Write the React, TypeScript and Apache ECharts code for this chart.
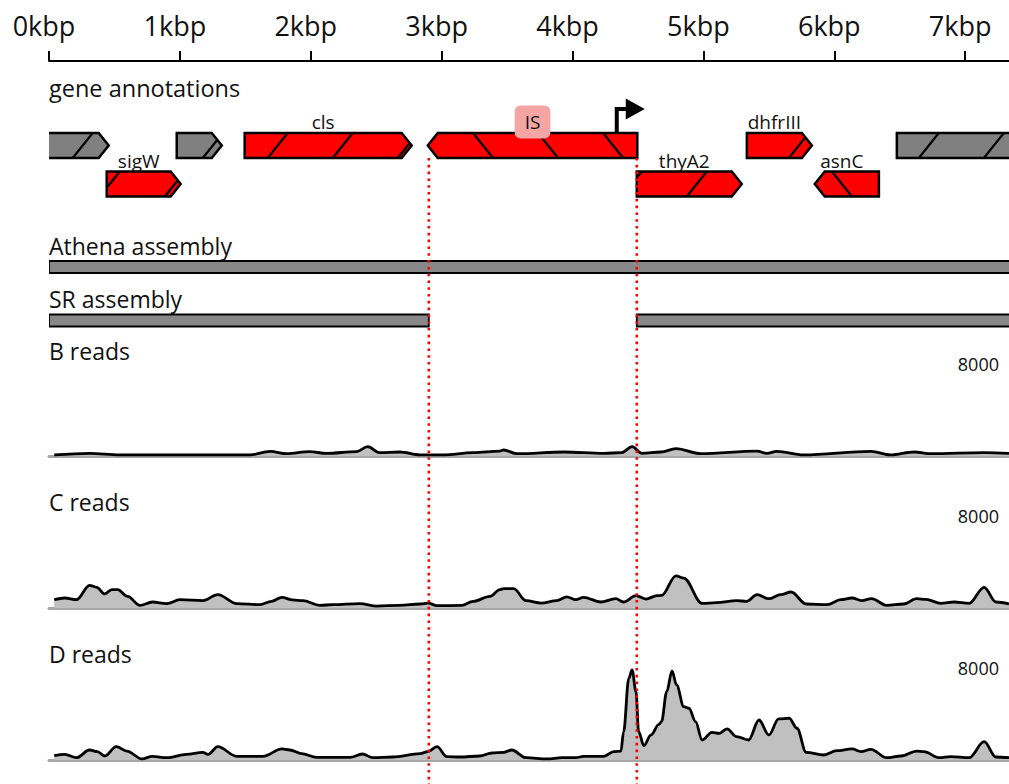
import React, { useEffect, useRef } from 'react';
import * as echarts from 'echarts';

const FONT = '"Open Sans", "Noto Sans", sans-serif';
const X_MAX = 7335;

// top ruler
const tickLabels = ['0kbp', '1kbp', '2kbp', '3kbp', '4kbp', '5kbp', '6kbp', '7kbp'];

// gene annotations (bp)
const geneNames = ['', 'sigW', '', 'cls', 'IS', 'thyA2', 'dhfrIII', 'asnC', ''];
const geneStart = [-300, 441, 976, 1495, 2894, 4491, 5332, 5851, 6478];
const geneEnd = [456, 1006, 1320, 2771, 4495, 5293, 5829, 6341, 7900];
const geneStrand = [1, 1, 1, 1, -1, 1, 1, -1, 1];
const geneRow = [0, 1, 0, 0, 0, 1, 0, 1, 0];
const geneKind = ['other', 'ref', 'other', 'ref', 'IS', 'ref', 'ref', 'ref', 'other'];
const geneHatch = [181, 388, 1175, 1671, 3240, 4376, 5653, 5982, 6646];
const HATCH_PERIOD = 497;

// promoter arrow
const promoterPos = [4338];
const promoterRow = [0];

// assemblies: [start, end, row]
const assemblyNames = ['Athena assembly', 'SR assembly'];
const athenaSegments = [[0, 7400, 0]];
const srSegments = [[0, 2902, 1], [4491, 7400, 1]];

// breakpoints
const breakpoints = [2902, 4491];

// coverage tracks [bp, depth]
const COV_MAX = 8000;
const bReads = [[40, 90], [310, 230], [540, 90], [1535, 90], [1690, 400], [1815, 200], [1990, 380], [2120, 230], [2350, 380], [2435, 810], [2525, 290], [2680, 350], [2835, 90], [3010, 90], [3240, 290], [3445, 430], [3475, 520], [3575, 200], [3935, 350], [4240, 230], [4375, 290], [4455, 810], [4530, 230], [4675, 350], [4790, 640], [4980, 200], [5410, 430], [5485, 230], [5560, 400], [5765, 90], [6280, 400], [6430, 90], [6610, 350], [6740, 200], [7145, 290], [7335, 230]];
const cReads = [[40, 720], [120, 870], [210, 720], [310, 1970], [365, 1800], [425, 1220], [480, 1600], [525, 1600], [600, 1010], [695, 230], [790, 520], [900, 380], [1000, 720], [1175, 640], [1290, 1160], [1435, 380], [1610, 290], [1700, 580], [1780, 930], [1860, 700], [1940, 640], [2070, 230], [2170, 290], [2375, 380], [2505, 170], [2680, 230], [2835, 350], [2895, 430], [2965, 200], [3155, 230], [3240, 580], [3370, 1010], [3445, 1600], [3475, 1680], [3550, 1680], [3645, 640], [3760, 430], [3880, 640], [3955, 960], [4025, 720], [4085, 930], [4215, 520], [4330, 810], [4390, 520], [4485, 1070], [4560, 780], [4645, 1070], [4680, 1100], [4790, 2800], [4850, 2600], [4990, 400], [5100, 460], [5255, 640], [5330, 580], [5410, 1160], [5500, 810], [5590, 1160], [5670, 1390], [5785, 350], [5945, 290], [6050, 720], [6135, 870], [6210, 640], [6285, 810], [6400, 230], [6530, 350], [6630, 810], [6700, 750], [6815, 400], [6915, 520], [7030, 400], [7145, 1800], [7235, 520], [7335, 350]];
const dReads = [[40, 375], [120, 490], [210, 200], [310, 870], [370, 725], [425, 350], [515, 1160], [595, 780], [710, 90], [790, 320], [900, 200], [1050, 490], [1175, 670], [1215, 490], [1290, 1160], [1435, 320], [1635, 320], [1780, 960], [1840, 870], [1930, 550], [2045, 230], [2300, 230], [2395, 520], [2475, 200], [2625, 260], [2835, 550], [2895, 725], [2965, 1160], [3040, 290], [3140, 260], [3290, 350], [3385, 610], [3475, 670], [3535, 870], [3645, 200], [3805, 90], [3920, 200], [4025, 200], [4085, 320], [4240, 320], [4315, 725], [4370, 780], [4390, 2440], [4430, 7100], [4455, 7830], [4485, 5950], [4505, 2470], [4545, 1250], [4600, 2180], [4660, 3100], [4680, 3340], [4720, 5950], [4760, 7740], [4795, 6530], [4850, 4640], [4890, 4500], [4940, 3340], [4990, 1740], [5065, 2410], [5120, 2320], [5180, 2700], [5255, 2030], [5345, 1740], [5425, 3480], [5500, 2180], [5575, 3570], [5655, 3630], [5715, 2760], [5785, 670], [5920, 435], [6020, 810], [6135, 960], [6205, 725], [6280, 930], [6400, 200], [6510, 350], [6630, 780], [6685, 725], [6800, 200], [6890, 290], [7030, 200], [7145, 1600], [7235, 260], [7335, 200]];
const trackNames = ['B reads', 'C reads', 'D reads'];

const RED = '#ff0000';
const GRAY = '#808080';

function buildOption() {
  const SLANT = 20;
  const GENE_H = 25;
  const TIP = 10;

  const renderGene = (params: any, api: any) => {
    const i = params.dataIndex;
    const s = api.value(0), e = api.value(1), row = api.value(2);
    const p0 = api.coord([s, row]);
    const x0 = p0[0], yc = p0[1];
    const x1 = api.coord([e, row])[0];
    const hh = GENE_H / 2, top = yc - hh, bot = yc + hh;
    const fwd = geneStrand[i] > 0;
    const pts = fwd
      ? [[x0, top], [x1 - TIP, top], [x1, yc], [x1 - TIP, bot], [x0, bot]]
      : [[x0 + TIP, top], [x1, top], [x1, bot], [x0 + TIP, bot], [x0, yc]];
    const fill = geneKind[i] === 'other' ? GRAY : RED;
    const children: any[] = [
      { type: 'polygon', shape: { points: pts }, style: { fill, stroke: '#000', lineWidth: 2.5, lineJoin: 'miter' } },
    ];
    const inside = (x: number, y: number) => {
      const d = TIP * Math.abs(y - yc) / hh;
      return fwd ? (x >= x0 + 1 && x <= x1 - d - 1) : (x >= x0 + d + 1 && x <= x1 - 1);
    };
    for (let b = geneHatch[i] - 5 * HATCH_PERIOD; b <= e + HATCH_PERIOD; b += HATCH_PERIOD) {
      const xb = api.coord([b, row])[0];
      const ax = xb, ay = fwd ? bot : top, bx = xb + SLANT, by = fwd ? top : bot;
      let t0 = -1, t1 = -1;
      for (let k = 0; k <= 100; k++) {
        const t = k / 100;
        const x = ax + (bx - ax) * t, y = ay + (by - ay) * t;
        if (inside(x, y)) { if (t0 < 0) t0 = t; t1 = t; }
      }
      if (t0 >= 0 && t1 > t0) {
        children.push({
          type: 'line',
          shape: { x1: ax + (bx - ax) * t0, y1: ay + (by - ay) * t0, x2: ax + (bx - ax) * t1, y2: ay + (by - ay) * t1 },
          style: { stroke: '#000', lineWidth: 2.2 },
        });
      }
    }
    if (geneNames[i]) {
      const isIS = geneKind[i] === 'IS';
      children.push({
        type: 'text',
        x: (x0 + x1) / 2 - (isIS ? 0 : 5),
        y: top - 11,
        z2: 10,
        style: Object.assign(
          { text: geneNames[i], fontSize: 19, fontFamily: FONT, fill: '#111', align: 'center', verticalAlign: 'middle' },
          isIS ? { backgroundColor: '#f6a5a5', padding: [7, 10], borderRadius: 6 } : {}
        ),
      });
    }
    return { type: 'group', children };
  };

  const renderPromoter = (params: any, api: any) => {
    const p = api.coord([api.value(0), api.value(1)]);
    const x = p[0];
    const top = p[1] - GENE_H / 2;
    const cy = top - 24;
    return {
      type: 'group',
      children: [
        { type: 'polyline', shape: { points: [[x, top], [x, cy], [x + 10, cy]] }, style: { stroke: '#000', lineWidth: 4, fill: 'none' } },
        { type: 'polygon', shape: { points: [[x + 9, cy - 10.5], [x + 28, cy], [x + 9, cy + 10.5]] }, style: { fill: '#000' } },
      ],
    };
  };

  const renderAssembly = (params: any, api: any) => {
    const p0 = api.coord([api.value(0), api.value(2)]);
    const x1 = api.coord([api.value(1), api.value(2)])[0];
    return {
      type: 'rect',
      shape: { x: p0[0], y: p0[1] - 6, width: x1 - p0[0], height: 12 },
      style: { fill: '#888888', stroke: '#000', lineWidth: 1.8 },
    };
  };

  const renderBreak = (params: any, api: any) => {
    const cs = params.coordSys;
    const x = api.coord([api.value(0), 0])[0];
    return {
      type: 'line',
      shape: { x1: x, y1: cs.y, x2: x, y2: cs.y + cs.height },
      style: { stroke: RED, lineWidth: 2.6, lineDash: [2.6, 4.2] },
    };
  };

  const covTops = [364, 516, 668];
  const COV_H = 92;

  const grids: any[] = [
    { left: 49, right: 0, top: 60, height: 1 },
    { left: 49, right: 0, top: 87.75, height: 115.5 },
    { left: 49, right: 0, top: 240.25, height: 107 },
    ...covTops.map((t) => ({ left: 49, right: 0, top: t, height: COV_H })),
    { left: 49, right: 0, top: 158, bottom: 0 },
  ];

  const xAxes: any[] = grids.map((g, gi) => ({
    type: 'value',
    gridIndex: gi,
    min: 0,
    max: X_MAX,
    interval: 1000,
    show: gi === 0 || (gi >= 3 && gi <= 5),
    position: gi === 0 ? 'top' : 'bottom',
    splitLine: { show: false },
    axisLine: gi === 0
      ? { show: true, lineStyle: { color: '#000', width: 2 } }
      : { show: true, lineStyle: { color: '#a6a6a6', width: 3 } },
    axisTick: gi === 0 ? { show: true, length: 10, lineStyle: { color: '#000', width: 2 } } : { show: false },
    axisLabel: gi === 0
      ? {
          show: true,
          showMaxLabel: false,
          margin: 21,
          fontSize: 27,
          fontFamily: FONT,
          color: '#111',
          padding: [0, 10, 0, 0],
          formatter: (v: number) => (v % 1000 === 0 && tickLabels[v / 1000]) || '',
        }
      : { show: false },
  }));

  const yAxes: any[] = grids.map((g, gi) => {
    if (gi === 1) return { type: 'value', gridIndex: gi, min: -1.5, max: 1.5, inverse: true, show: false };
    if (gi === 2) return { type: 'value', gridIndex: gi, min: -0.5, max: 1.5, inverse: true, show: false };
    if (gi >= 3 && gi <= 5)
      return {
        type: 'value',
        gridIndex: gi,
        min: 0,
        max: COV_MAX,
        interval: COV_MAX,
        position: 'right',
        axisLine: { show: false },
        axisTick: { show: false },
        splitLine: { show: false },
        axisLabel: {
          inside: true,
          showMinLabel: false,
          margin: 10,
          fontSize: 18,
          fontFamily: FONT,
          color: '#111',
          formatter: (v: number) => String(v),
        },
      };
    return { type: 'value', gridIndex: gi, min: 0, max: 1, show: false };
  });

  const covData = [bReads, cReads, dReads];

  const series: any[] = [
    {
      type: 'custom',
      xAxisIndex: 1,
      yAxisIndex: 1,
      clip: true,
      renderItem: renderGene,
      encode: { x: [0, 1], y: 2 },
      data: geneStart.map((s, i) => [s, geneEnd[i], geneRow[i]]),
      silent: true,
      z: 2,
    },
    {
      type: 'custom',
      xAxisIndex: 1,
      yAxisIndex: 1,
      clip: true,
      renderItem: renderPromoter,
      encode: { x: 0, y: 1 },
      data: promoterPos.map((p, i) => [p, promoterRow[i]]),
      silent: true,
      z: 3,
    },
    {
      type: 'custom',
      xAxisIndex: 2,
      yAxisIndex: 2,
      clip: true,
      renderItem: renderAssembly,
      encode: { x: [0, 1], y: 2 },
      data: [...athenaSegments, ...srSegments],
      silent: true,
      z: 2,
    },
    ...covData.map((d, k) => ({
      type: 'line',
      xAxisIndex: 3 + k,
      yAxisIndex: 3 + k,
      data: d,
      smooth: 0.35,
      smoothMonotone: 'x',
      symbol: 'none',
      lineStyle: { color: '#000', width: 2.8 },
      areaStyle: { color: '#c0c0c0', opacity: 1 },
      silent: true,
      z: 2,
    })),
    {
      type: 'custom',
      xAxisIndex: 6,
      yAxisIndex: 6,
      clip: false,
      renderItem: renderBreak,
      encode: { x: 0 },
      data: breakpoints.map((b) => [b]),
      silent: true,
      z: 10,
    },
  ];

  const labelStyle = (text: string, size: number) => ({
    text,
    fontSize: size,
    fontFamily: FONT,
    fill: '#111',
    verticalAlign: 'middle',
    align: 'left',
  });

  const graphic: any[] = [
    { type: 'text', x: 49, y: 88, style: labelStyle('gene annotations', 23.5) },
    { type: 'text', x: 49, y: 246, style: labelStyle(assemblyNames[0], 23) },
    { type: 'text', x: 49, y: 299, style: labelStyle(assemblyNames[1], 23) },
    { type: 'text', x: 49, y: 351, style: labelStyle(trackNames[0], 23) },
    { type: 'text', x: 49, y: 502, style: labelStyle(trackNames[1], 23) },
    { type: 'text', x: 49, y: 654, style: labelStyle(trackNames[2], 23) },
  ];

  return {
    animation: false,
    backgroundColor: '#ffffff',
    grid: grids,
    xAxis: xAxes,
    yAxis: yAxes,
    series,
    graphic,
  };
}

export default function App() {
  const ref = useRef<HTMLDivElement>(null);
  useEffect(() => {
    if (!ref.current) return;
    const chart = echarts.init(ref.current, null, { renderer: 'svg' });
    chart.setOption(buildOption() as any);
    return () => chart.dispose();
  }, []);
  return (
    <div
      ref={ref}
      style={{ position: 'absolute', left: 0, top: 0, width: 1009, height: 784, background: '#fff' }}
    />
  );
}
